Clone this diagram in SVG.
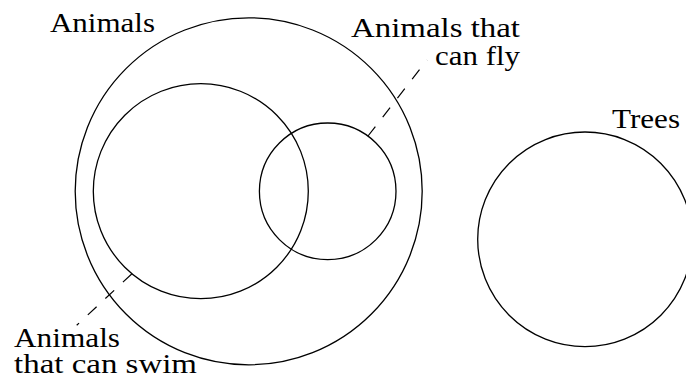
<svg xmlns="http://www.w3.org/2000/svg" width="686" height="379" viewBox="0 0 686 379">
<style>
.c{fill:none;stroke:#000;stroke-width:1.3}
.d{fill:none;stroke:#000;stroke-width:1.2;stroke-dasharray:12 12}
</style>
<rect width="686" height="379" fill="#fff"/>
<g font-family="'Liberation Serif', 'DejaVu Serif', 'Times New Roman', serif" font-size="28" fill="#000">
<g id="animals">
<circle class="c" cx="248.7" cy="191.3" r="173.5"/>
<text x="50" y="32" textLength="105" lengthAdjust="spacingAndGlyphs">Animals</text>
</g>
<g id="swim">
<circle class="c" cx="200.8" cy="191.2" r="107.5"/>
<text x="14" y="347" textLength="106" lengthAdjust="spacingAndGlyphs">Animals</text>
<text x="14" y="373" textLength="183" lengthAdjust="spacingAndGlyphs">that can swim</text>
</g>
<g id="fly">
<circle class="c" cx="327.7" cy="191.3" r="68.3"/>
<text x="351" y="36.5" textLength="169" lengthAdjust="spacingAndGlyphs">Animals that</text>
<text x="435" y="65" textLength="85" lengthAdjust="spacingAndGlyphs">can fly</text>
</g>
<g id="trees">
<circle class="c" cx="585" cy="239.3" r="107.3"/>
<text x="612" y="128" textLength="68" lengthAdjust="spacingAndGlyphs">Trees</text>
</g>
</g>
<g id="connectors">
<line class="d" x1="368" y1="136" x2="427" y2="60"/>
<line class="d" x1="131.7" y1="274" x2="76.7" y2="325.3"/>
</g>
</svg>
